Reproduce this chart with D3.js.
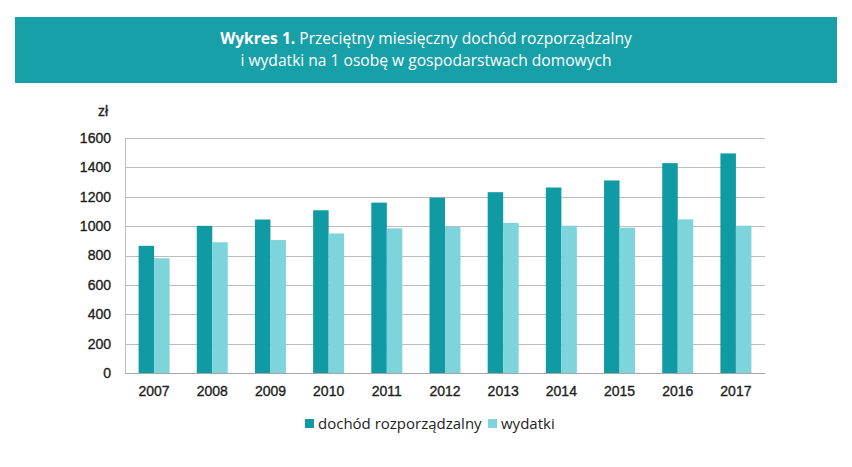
<!DOCTYPE html>
<html><head><meta charset="utf-8">
<script src="https://cdn.jsdelivr.net/npm/d3@7"></script>
<style>
body{margin:0;background:#fff;}
svg{display:block;}
</style></head>
<body><svg id="c" width="852" height="467"></svg>
<script>
const years = ["2007","2008","2009","2010","2011","2012","2013","2014","2015","2016","2017"];
const dochod = [866, 1002, 1045, 1108, 1160, 1194, 1231, 1263, 1311, 1429, 1495];
const wydatki = [781, 890, 905, 950, 985, 996, 1022, 1003, 989, 1046, 1003];
const yTicks = [0,200,400,600,800,1000,1200,1400,1600];
const seriesNames = ["dochód rozporządzalny","wydatki"];
const colors = ["#0f9aa4","#7dd4db"];

const svg = d3.select("#c");
// banner
svg.append("rect").attr("x",15).attr("y",17).attr("width",822).attr("height",66).attr("fill","#17a0a8");
const t1 = svg.append("text").attr("x",426).attr("y",44).attr("text-anchor","middle")
  .attr("font-family","'Open Sans', sans-serif").attr("font-size",15.6).attr("fill","#fff");
t1.append("tspan").attr("font-weight","bold").text("Wykres 1.");
t1.append("tspan").text(" Przeciętny miesięczny dochód rozporządzalny");
svg.append("text").attr("x",426).attr("y",66).attr("text-anchor","middle")
  .attr("font-family","'Open Sans', sans-serif").attr("font-size",15.6).attr("fill","#fff")
  .text("i wydatki na 1 osobę w gospodarstwach domowych");

const m = {l:125, r:765, t:138, b:373};
const x = d3.scaleBand().domain(years).range([m.l,m.r]).paddingInner(0).paddingOuter(0);
const y = d3.scaleLinear().domain([0,1600]).range([m.b,m.t]);
const barW = 15.5;

const g = svg.append("g");
// gridlines
g.selectAll("line.grid").data(yTicks.filter(d=>d>0)).join("line")
  .attr("x1",m.l).attr("x2",m.r).attr("y1",d=>Math.round(y(d))+0.5).attr("y2",d=>Math.round(y(d))+0.5)
  .attr("stroke","#bdbdbd").attr("stroke-width",1);
// left border
g.append("line").attr("x1",m.l+0.5).attr("x2",m.l+0.5).attr("y1",m.t).attr("y2",m.b).attr("stroke","#bdbdbd");

const cx = d => x(d) + x.bandwidth()/2;
g.selectAll("rect.d").data(years).join("rect")
  .attr("x",(d)=>cx(d)-barW).attr("width",barW)
  .attr("y",(d,i)=>y(dochod[i])).attr("height",(d,i)=>y(0)-y(dochod[i]))
  .attr("fill",colors[0]);
g.selectAll("rect.w").data(years).join("rect")
  .attr("x",(d)=>cx(d)).attr("width",barW)
  .attr("y",(d,i)=>y(wydatki[i])).attr("height",(d,i)=>y(0)-y(wydatki[i]))
  .attr("fill",colors[1]);
// baseline
g.append("line").attr("x1",m.l).attr("x2",m.r).attr("y1",y(0)+0.5).attr("y2",y(0)+0.5).attr("stroke","#a6a6a6");

const tickFont = "'Liberation Sans', Arial, sans-serif";
// y axis labels
const yAxis = d3.axisLeft(y).tickValues(yTicks).tickFormat(d3.format("d")).tickSize(0).tickPadding(14);
const ya = svg.append("g").attr("transform",`translate(${m.l},0)`).call(yAxis);
ya.select(".domain").remove();
ya.selectAll("text").attr("font-family",tickFont).attr("font-size",14)
  .attr("fill","#1e1e1e").attr("stroke","#1e1e1e").attr("stroke-width",0.35);
svg.append("text").attr("x",103).attr("y",116).attr("text-anchor","middle")
  .attr("font-family",tickFont).attr("font-size",14)
  .attr("fill","#1e1e1e").attr("stroke","#1e1e1e").attr("stroke-width",0.35).text("zł");

// x axis labels
const xAxis = d3.axisBottom(x).tickSize(0).tickPadding(13);
const xa = svg.append("g").attr("transform",`translate(0,${m.b})`).call(xAxis);
xa.select(".domain").remove();
xa.selectAll("text").attr("font-family",tickFont).attr("font-size",14)
  .attr("fill","#1e1e1e").attr("stroke","#1e1e1e").attr("stroke-width",0.35);

// legend
const lg = svg.append("g");
const lx = [305, 488];
seriesNames.forEach((n,i)=>{
  lg.append("rect").attr("x",lx[i]).attr("y",419).attr("width",9).attr("height",9).attr("fill",colors[i]);
  lg.append("text").attr("x",lx[i]+13).attr("y",429)
    .attr("font-family","'Open Sans', sans-serif").attr("font-size",15).attr("fill","#1e1e1e").text(n);
});
</script>
</body></html>
